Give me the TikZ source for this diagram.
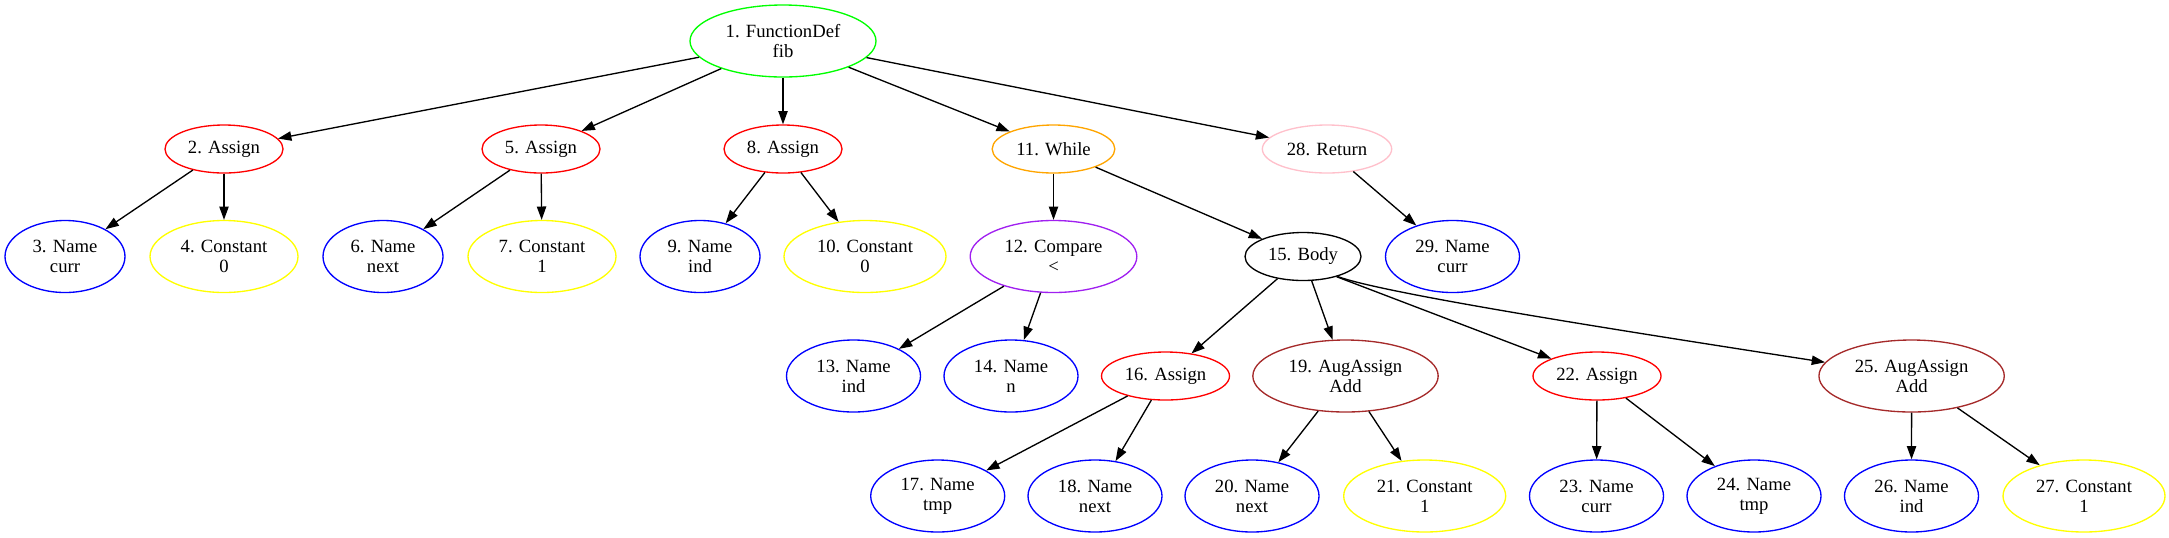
\documentclass[tikz,border=0pt]{standalone}
\usepackage{fontspec}
\setmainfont{Liberation Serif}
\usetikzlibrary{shapes.geometric,arrows.meta}
\definecolor{gvgreen}{RGB}{0,255,0}
\definecolor{gvred}{RGB}{255,0,0}
\definecolor{gvblue}{RGB}{0,0,255}
\definecolor{gvyellow}{RGB}{255,255,0}
\definecolor{gvorange}{RGB}{255,165,0}
\definecolor{gvpurple}{RGB}{160,32,240}
\definecolor{gvbrown}{RGB}{165,42,42}
\definecolor{gvpink}{RGB}{255,192,203}
\tikzset{
  nd/.style={ellipse, draw, line width=1pt, inner sep=0pt, align=center,
    font=\fontsize{14}{15}\selectfont, text=black},
  one/.style={nd, minimum height=36pt},
  two/.style={nd, minimum height=54pt},
  edge/.style={draw=black, line width=1pt, -{Triangle[length=10pt,width=7pt]}},
}
\begin{document}
\begin{tikzpicture}[x=0.75pt,y=-0.75pt]
\useasboundingbox (0,0) rectangle (2169,537);
% rank 0
\node[two, draw=gvgreen, minimum width=139.5pt] (n1) at (783,41) {1. FunctionDef\\fib};
% rank 1
\node[one, draw=gvred, minimum width=88.5pt] (n2) at (224,149) {2. Assign};
\node[one, draw=gvred, minimum width=88.5pt] (n5) at (541,149) {5. Assign};
\node[one, draw=gvred, minimum width=88.5pt] (n8) at (783,149) {8. Assign};
\node[one, draw=gvorange, minimum width=92pt] (n11) at (1053.5,149) {11. While};
\node[one, draw=gvpink, minimum width=97pt] (n28) at (1327,149) {28. Return};
% rank 2
\node[two, draw=gvblue, minimum width=90pt] (n3) at (65,256.5) {3. Name\\curr};
\node[two, draw=gvyellow, minimum width=111pt] (n4) at (224,256.5) {4. Constant\\0};
\node[two, draw=gvblue, minimum width=90pt] (n6) at (383,256.5) {6. Name\\next};
\node[two, draw=gvyellow, minimum width=111pt] (n7) at (542,256.5) {7. Constant\\1};
\node[two, draw=gvblue, minimum width=90pt] (n9) at (700,256.5) {9. Name\\ind};
\node[two, draw=gvyellow, minimum width=121.5pt] (n10) at (865,256.5) {10. Constant\\0};
\node[two, draw=gvpurple, minimum width=125pt] (n12) at (1053.5,256.5) {12. Compare\\<};
\node[one, draw=black, minimum width=87pt] (n15) at (1303,256.5) {15. Body};
\node[two, draw=gvblue, minimum width=100.5pt] (n29) at (1452.5,256.5) {29. Name\\curr};
% rank 3
\node[two, draw=gvblue, minimum width=100.5pt] (n13) at (853.5,376) {13. Name\\ind};
\node[two, draw=gvblue, minimum width=100.5pt] (n14) at (1011,376) {14. Name\\n};
\node[one, draw=gvred, minimum width=96pt] (n16) at (1165.5,376) {16. Assign};
\node[two, draw=gvbrown, minimum width=139pt] (n19) at (1345.5,376) {19. AugAssign\\Add};
\node[one, draw=gvred, minimum width=96pt] (n22) at (1597,376) {22. Assign};
\node[two, draw=gvbrown, minimum width=139pt] (n25) at (1911.6,376) {25. AugAssign\\Add};
% rank 4
\node[two, draw=gvblue, minimum width=100.5pt] (n17) at (937.7,496) {17. Name\\tmp};
\node[two, draw=gvblue, minimum width=100.5pt] (n18) at (1095,496) {18. Name\\next};
\node[two, draw=gvblue, minimum width=100.5pt] (n20) at (1252,496) {20. Name\\next};
\node[two, draw=gvyellow, minimum width=121.5pt] (n21) at (1424.7,496) {21. Constant\\1};
\node[two, draw=gvblue, minimum width=100.5pt] (n23) at (1596.5,496) {23. Name\\curr};
\node[two, draw=gvblue, minimum width=100.5pt] (n24) at (1754,496) {24. Name\\tmp};
\node[two, draw=gvblue, minimum width=100.5pt] (n26) at (1911.5,496) {26. Name\\ind};
\node[two, draw=gvyellow, minimum width=121.5pt] (n27) at (2084,496) {27. Constant\\1};
% edges
\foreach \a/\b in {n1/n2,n1/n5,n1/n8,n1/n11,n1/n28,n2/n3,n2/n4,n5/n6,n5/n7,n8/n9,n8/n10,
  n11/n12,n11/n15,n12/n13,n12/n14,n15/n16,n15/n19,n16/n17,n16/n18,
  n19/n20,n19/n21,n22/n23,n22/n24,n25/n26,n25/n27,n28/n29}
  \draw[edge] (\a) -- (\b);
\draw[edge] (n15.-31) -- (n22);
\draw[edge] (n15.-30) .. controls +(45,17) and +(-200,-31) .. (n25.171);
\end{tikzpicture}
\end{document}
